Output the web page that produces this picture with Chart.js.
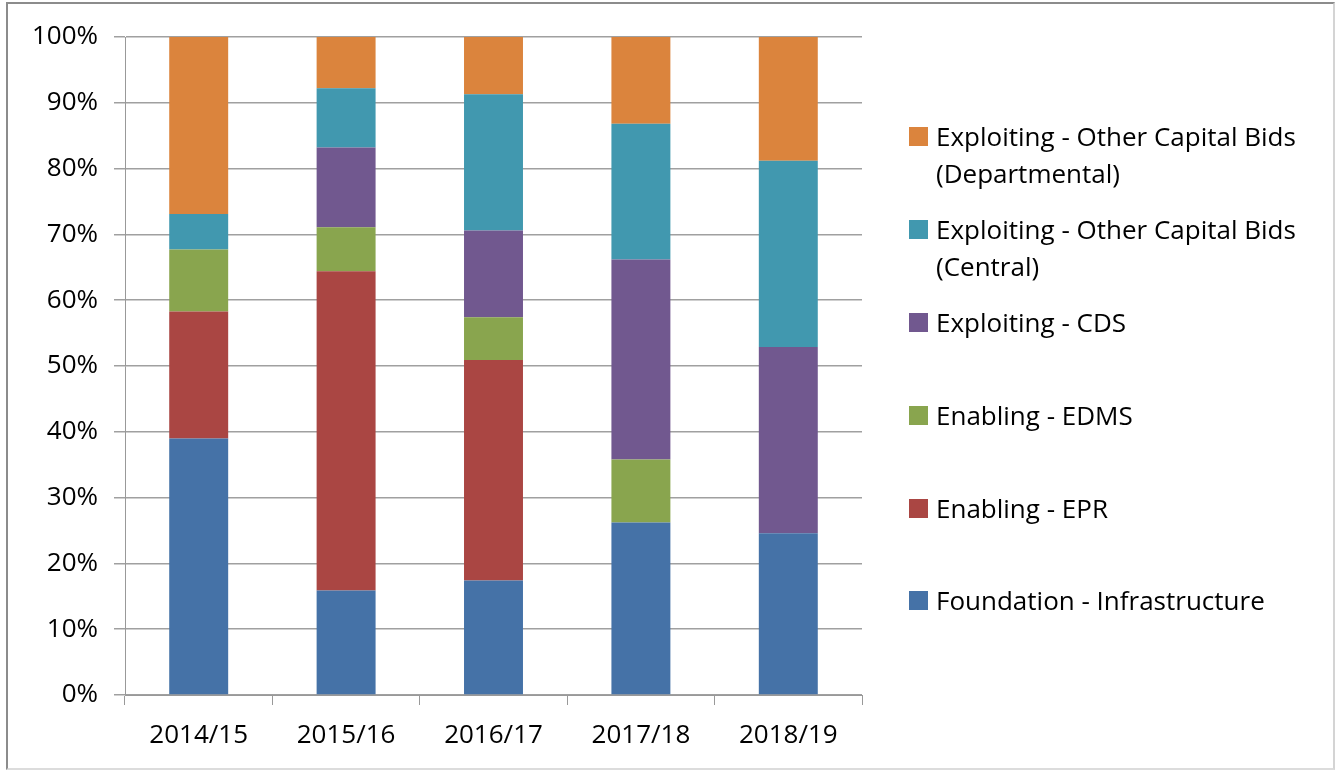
<!DOCTYPE html>
<html>
<head>
<meta charset="utf-8">
<script src="https://cdn.jsdelivr.net/npm/chart.js@4.4.1/dist/chart.umd.min.js"></script>
<style>
  body { margin: 0; background: #fff; }
  #wrap { position: relative; width: 1336px; height: 771px; overflow: hidden; }
  #frame { position: absolute; left: 6px; top: 2px; width: 1325px; height: 764px;
           border: 2px solid #8c8c8c; border-right-color: #d4d4d4; border-bottom-color: #dcdcdc; }
  #legend { position: absolute; left: 0; top: 0; font-family: "Open Sans", sans-serif; font-size: 26px; color: #000; }
  .item { position: absolute; left: 909px; width: 420px; line-height: 37px; }
  .box { position: absolute; left: 0; top: 9px; width: 19px; height: 19px; }
  .txt { position: absolute; left: 27px; top: 0; white-space: nowrap; }
</style>
</head>
<body>
<div id="wrap">
  <canvas id="chart" width="1336" height="771"></canvas>
  <div id="frame"></div>
  <div id="legend"></div>
</div>
<script>
const years = ['2014/15', '2015/16', '2016/17', '2017/18', '2018/19'];

// bottom to top
const seriesNames = [
    'Foundation - Infrastructure',
    'Enabling - EPR',
    'Enabling - EDMS',
    'Exploiting - CDS',
    'Exploiting - Other Capital Bids (Central)',
    'Exploiting - Other Capital Bids (Departmental)'
];
const legendLines = [
    ['Foundation - Infrastructure'],
    ['Enabling - EPR'],
    ['Enabling - EDMS'],
    ['Exploiting - CDS'],
    ['Exploiting - Other Capital Bids', '(Central)'],
    ['Exploiting - Other Capital Bids', '(Departmental)']
];
const seriesColors = ['#4572a7', '#aa4643', '#89a54e', '#71588f', '#4198af', '#db843d'];

const foundation = [39.0, 15.9, 17.4, 26.2, 24.6];
const epr        = [19.3, 48.5, 33.5, 0, 0];
const edms       = [9.4, 6.7, 6.5, 9.6, 0];
const cds        = [0, 12.1, 13.2, 30.4, 28.3];
const central    = [5.4, 9.0, 20.7, 20.6, 28.3];
const departmental = [26.9, 7.8, 8.7, 13.2, 18.8];

const yTicks = [0, 10, 20, 30, 40, 50, 60, 70, 80, 90, 100];

const allData = [foundation, epr, edms, cds, central, departmental];

const FONT = '"Open Sans", sans-serif';

new Chart(document.getElementById('chart').getContext('2d'), {
    type: 'bar',
    data: {
        labels: years,
        datasets: allData.map((d, i) => ({
            label: seriesNames[i],
            data: d,
            backgroundColor: seriesColors[i],
            borderWidth: 0,
            categoryPercentage: 1,
            barPercentage: 0.4
        }))
    },
    options: {
        responsive: false,
        animation: false,
        layout: { padding: { top: 37, right: 474, bottom: 0, left: 0 } },
        plugins: { legend: { display: false }, tooltip: { enabled: false } },
        scales: {
            x: {
                stacked: true,
                afterFit: s => { s.height = 76; },
                grid: { offset: true, drawOnChartArea: false, drawTicks: true, tickLength: 10, color: '#999', lineWidth: 1 },
                border: { color: '#999', width: 1 },
                ticks: { color: '#000', font: { family: FONT, size: 26 }, padding: 15 }
            },
            y: {
                stacked: true,
                min: 0,
                max: 100,
                afterFit: s => { s.width = 125; },
                afterBuildTicks: s => { s.ticks = yTicks.map(v => ({ value: v })); },
                grid: { color: '#a0a0a0', lineWidth: 1.5, drawTicks: true, tickLength: 11 },
                border: { color: '#999', width: 1 },
                ticks: { color: '#000', font: { family: FONT, size: 26 }, padding: 16, callback: v => v + '%' }
            }
        }
    }
});

// legend, top entry first
const legendTops = [118, 211, 304, 397, 490, 582];
const legend = document.getElementById('legend');
for (let k = 0; k < seriesNames.length; k++) {
    const i = seriesNames.length - 1 - k;
    const item = document.createElement('div');
    item.className = 'item';
    item.style.top = legendTops[k] + 'px';
    const box = document.createElement('div');
    box.className = 'box';
    box.style.background = seriesColors[i];
    const txt = document.createElement('div');
    txt.className = 'txt';
    txt.innerHTML = legendLines[i].join('<br>');
    item.appendChild(box);
    item.appendChild(txt);
    legend.appendChild(item);
}
</script>
</body>
</html>
